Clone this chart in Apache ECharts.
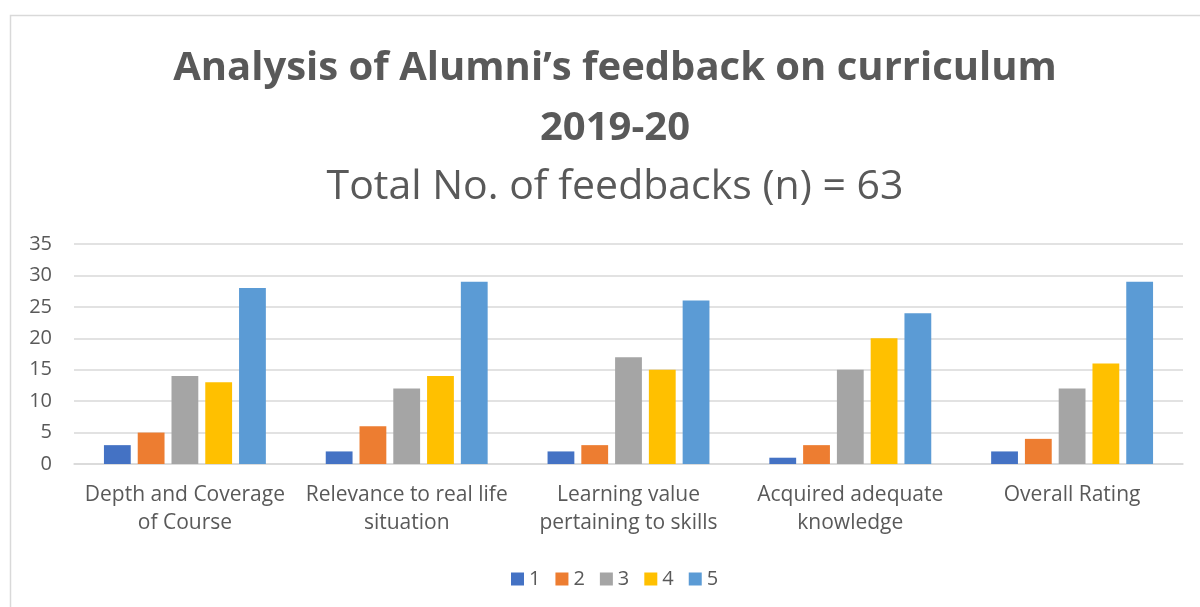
<!DOCTYPE html>
<html><head><meta charset="utf-8">
<script src="https://cdn.jsdelivr.net/npm/echarts@6/dist/echarts.min.js"></script>
<style>html,body{margin:0;padding:0;background:#fff}#c{width:1200px;height:607px}</style>
</head><body><div id="c"></div>
<script>
const categories = ['Depth and Coverage\nof Course','Relevance to real life\nsituation','Learning value\npertaining to skills','Acquired adequate\nknowledge','Overall Rating'];
const seriesNames = ['1','2','3','4','5'];
const s1 = [3,2,2,1,2];
const s2 = [5,6,3,3,4];
const s3 = [14,12,17,15,12];
const s4 = [13,14,15,20,16];
const s5 = [28,29,26,24,29];
const colors = ['#4472C4','#ED7D31','#A5A5A5','#FFC000','#5B9BD5'];
const yTicks = {min:0,max:35,interval:5};
const font = 'Open Sans';
const chart = echarts.init(document.getElementById('c'));
const data = [s1,s2,s3,s4,s5];
chart.setOption({
  animation:false,
  color:colors,
  graphic:[{type:'rect',shape:{x:10.5,y:15.5,width:1200,height:600},style:{fill:'none',stroke:'#D9D9D9',lineWidth:1.5},silent:true,z:-1}],
  title:[
    {text:"Analysis of Alumni’s feedback on curriculum",left:610,textAlign:'center',top:44,textStyle:{fontFamily:font,fontWeight:'bold',fontSize:40,color:'#595959'}},
    {text:"2019-20",left:610,textAlign:'center',top:104,textStyle:{fontFamily:font,fontWeight:'bold',fontSize:40,color:'#595959'}},
    {text:"Total No. of feedbacks (n) = 63",left:610,textAlign:'center',top:162,textStyle:{fontFamily:font,fontWeight:'normal',fontSize:41,color:'#595959'}}
  ],
  legend:{bottom:13,left:506,itemWidth:13,itemHeight:13,itemGap:15,icon:'rect',textStyle:{fontFamily:font,fontSize:20,color:'#595959'},data:seriesNames},
  grid:{left:74,right:17,top:244,bottom:143},
  xAxis:{type:'category',data:categories,axisLine:{lineStyle:{color:'#D9D9D9',width:1.5}},axisTick:{show:false},
    axisLabel:{fontFamily:font,fontSize:21,color:'#595959',lineHeight:28,margin:17,interval:0}},
  yAxis:{type:'value',min:yTicks.min,max:yTicks.max,interval:yTicks.interval,axisLine:{show:false},axisTick:{show:false},
    splitLine:{lineStyle:{color:'#D9D9D9',width:1.5}},axisLabel:{fontFamily:font,fontSize:20,color:'#595959',margin:22,align:'right'}},
  series:seriesNames.map((n,i)=>({name:n,type:'bar',data:data[i],barGap:'26%',barCategoryGap:'27%',itemStyle:{color:colors[i]}}))
});
</script></body></html>
